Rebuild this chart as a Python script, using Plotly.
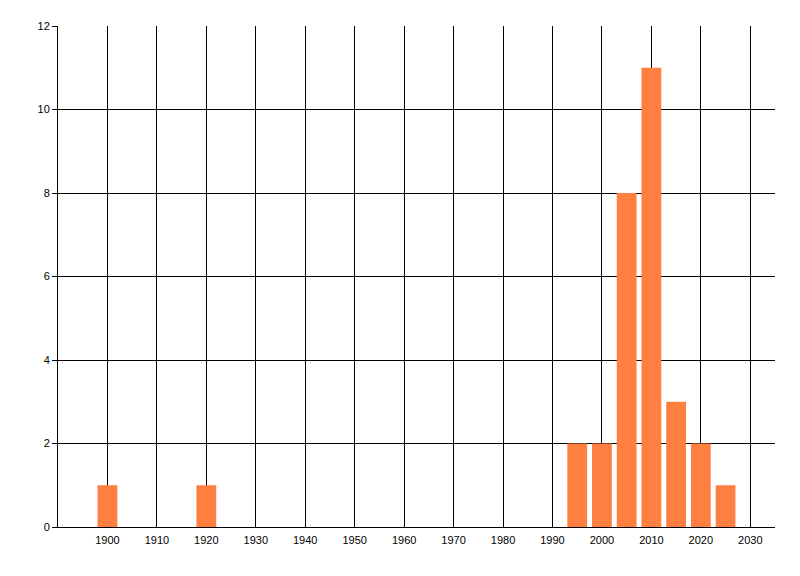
import plotly.graph_objects as go

years = [1900, 1920, 1995, 2000, 2005, 2010, 2015, 2020, 2025]
counts = [1, 1, 2, 2, 8, 11, 3, 2, 1]
x_ticks = list(range(1900, 2031, 10))
y_ticks = [0, 2, 4, 6, 8, 10, 12]

fig = go.Figure()
fig.add_trace(go.Bar(
    x=years,
    y=counts,
    width=4,
    marker=dict(color='#FF7F40', line=dict(width=0)),
))

# page body adds an 8px offset, so margins are shifted to compensate
fig.update_layout(
    width=800,
    height=576,
    margin=dict(l=50, r=33, t=18, b=57),
    paper_bgcolor='white',
    plot_bgcolor='white',
    showlegend=False,
    font=dict(family='Liberation Sans, Arial, sans-serif', size=11, color='black'),
    xaxis=dict(
        range=[1890, 2035],
        tickvals=x_ticks,
        showgrid=True,
        gridcolor='black',
        gridwidth=1,
        zeroline=False,
        showline=True,
        linecolor='black',
        linewidth=1,
        ticks='outside',
        ticklen=3,
        tickcolor='rgba(0,0,0,0)',
    ),
    yaxis=dict(
        range=[0, 12],
        tickvals=y_ticks,
        showgrid=True,
        gridcolor='black',
        gridwidth=1,
        zeroline=False,
        showline=True,
        linecolor='black',
        linewidth=1,
        ticks='outside',
        ticklen=5,
        tickcolor='black',
    ),
)

fig.write_html("out.html")
